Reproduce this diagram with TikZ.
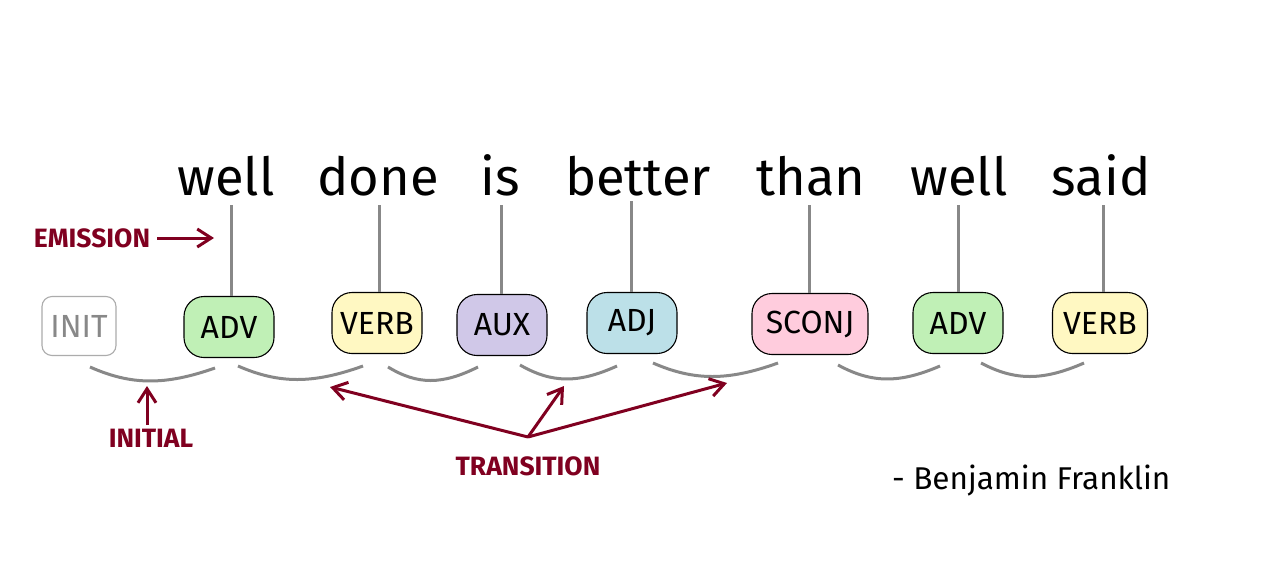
\documentclass[tikz,border=0pt]{standalone}
\usepackage{fontspec}
\setmainfont{Fira Sans}
\usetikzlibrary{arrows.meta,calc}
\definecolor{advc}{HTML}{C0F0B6}
\definecolor{verbc}{HTML}{FFF8C2}
\definecolor{auxc}{HTML}{D0C8E8}
\definecolor{adjc}{HTML}{BCE0E8}
\definecolor{sconjc}{HTML}{FFCCDD}
\definecolor{redc}{HTML}{800020}
\definecolor{grayc}{HTML}{888888}
\tikzset{
  word/.style={font=\fontsize{52.5}{60}\selectfont, anchor=base, inner sep=0pt},
  tag/.style={draw=black, line width=1.1pt, rounded corners=20pt, minimum height=61pt, minimum width=90pt, inner sep=0pt, font=\fontsize{32}{36}\selectfont},
  inittag/.style={tag, draw=grayc!70, text=grayc, minimum width=74pt, minimum height=59pt, rounded corners=10pt},
  stem/.style={draw=grayc, line width=3pt},
  trans/.style={draw=grayc, line width=3pt, to path={.. controls ($(\tikztostart)!0.33!(\tikztotarget)+(0,18)$) and ($(\tikztostart)!0.6!(\tikztotarget)+(0,18)$) .. (\tikztotarget)}},
  lbl/.style={text=redc, font=\bfseries\fontsize{26.5}{30}\selectfont, inner sep=0pt},
  redarrow/.style={draw=redc, line width=3pt, -{Straight Barb[length=14pt,width=18pt,line width=3pt]}},
}
\begin{document}
\begin{tikzpicture}[x=1pt,y=-1pt]
\useasboundingbox[fill=white] (0,0) rectangle (1284,576);
% words
\node[word] (w1) at (226,195) {well};
\node[word] (w2) at (378,195) {done};
\node[word] (w3) at (500,195) {is};
\node[word] (w4) at (638,195) {better};
\node[word] (w5) at (811,195) {than};
\node[word] (w6) at (959,195) {well};
\node[word] (w7) at (1101,195) {said};
% tags
\node[inittag] (t0) at (79,326) {INIT};
\node[tag, fill=advc] (t1) at (229,327) {ADV};
\node[tag, fill=verbc] (t2) at (377,323) {VERB};
\node[tag, fill=auxc] (t3) at (502,325) {AUX};
\node[tag, fill=adjc] (t4) at (632,323) {ADJ};
\node[tag, fill=sconjc, minimum width=116pt] (t5) at (810,324) {SCONJ};
\node[tag, fill=advc] (t6) at (958,323) {ADV};
\node[tag, fill=verbc, minimum width=95pt] (t7) at (1100,323) {VERB};
% stems
\coordinate (s1) at (231,205); \coordinate (s2) at (379,205);
\coordinate (s3) at (501,205); \coordinate (s4) at (631,201);
\coordinate (s5) at (809,205); \coordinate (s6) at (958,205);
\coordinate (s7) at (1103,205);
\draw[stem] (s1) -- (s1 |- t1.north);
\draw[stem] (s2) -- (s2 |- t2.north);
\draw[stem] (s3) -- (s3 |- t3.north);
\draw[stem] (s4) -- (s4 |- t4.north);
\draw[stem] (s5) -- (s5 |- t5.north);
\draw[stem] (s6) -- (s6 |- t6.north);
\draw[stem] (s7) -- (s7 |- t7.north);
% transition curves
\coordinate (a0) at (90,367);  \coordinate (b0) at (215,368);
\coordinate (a1) at (238,366); \coordinate (b1) at (363,366);
\coordinate (a2) at (388,367); \coordinate (b2) at (478,367);
\coordinate (a3) at (520,365); \coordinate (b3) at (617,366);
\coordinate (a4) at (653,363); \coordinate (b4) at (778,363);
\coordinate (a5) at (838,365); \coordinate (b5) at (940,366);
\coordinate (a6) at (981,363); \coordinate (b6) at (1084,363);
\draw[trans] (a0) to (b0);
\draw[trans] (a1) to (b1);
\draw[trans] (a2) to (b2);
\draw[trans] (a3) to (b3);
\draw[trans] (a4) to (b4);
\draw[trans] (a5) to (b5);
\draw[trans] (a6) to (b6);
% labels
\node[lbl] (em) at (92,238) {EMISSION};
\coordinate (ems) at (157,238);
\coordinate (emt) at (214,238);
\draw[redarrow] (ems) -- (emt);
\node[lbl] (ini) at (151,438) {INITIAL};
\coordinate (inis) at (147,425);
\coordinate (init) at (147,386);
\draw[redarrow] (inis) -- (init);
\node[lbl] (tr) at (528,466) {TRANSITION};
\coordinate (hub) at (528,437);
\coordinate (tg1) at (330,387);
\coordinate (tg2) at (564,386);
\coordinate (tg3) at (727,383);
\draw[redarrow] (hub) -- (tg1);
\draw[redarrow] (hub) -- (tg2);
\draw[redarrow] (hub) -- (tg3);
% quote author
\node[font=\fontsize{31.5}{36}\selectfont, inner sep=0pt, anchor=base west] (auth) at (892,489) {- Benjamin Franklin};
\end{tikzpicture}
\end{document}
